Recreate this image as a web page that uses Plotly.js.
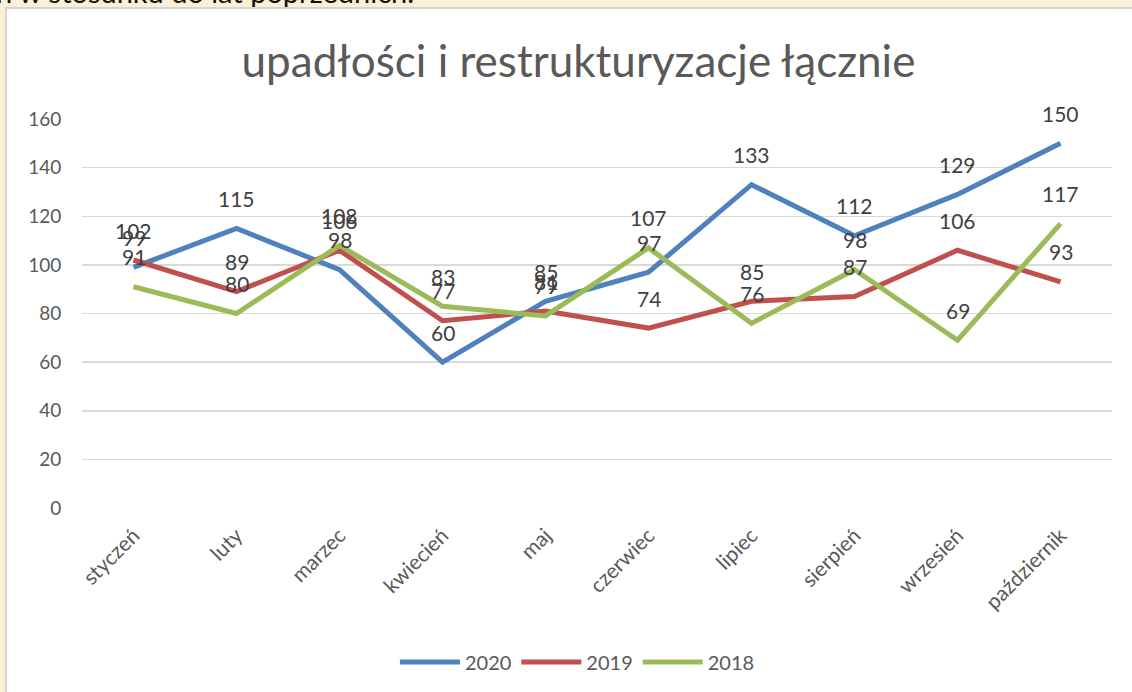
<!DOCTYPE html>
<html>
<head>
<meta charset="utf-8">
<script src="https://cdn.plot.ly/plotly-3.0.1.min.js"></script>
<style>
html,body{margin:0;padding:0;width:1132px;height:692px;overflow:hidden;background:#fbf0d6;}
#toptext{position:absolute;left:-4px;top:-26px;font-family:Lato,"Open Sans",sans-serif;font-size:29px;color:#111;white-space:nowrap;}
#box{position:absolute;left:5px;top:7px;width:1140px;height:700px;border:2px solid #d4d4d4;background:#fff;}
#chart{position:absolute;left:7px;top:9px;width:1125px;height:683px;}
</style>
</head>
<body>
<div id="toptext">n w stosunku do lat poprzednich.</div>
<div id="box"></div>
<div id="chart"></div>
<script>
const months = ["styczeń","luty","marzec","kwiecień","maj","czerwiec","lipiec","sierpień","wrzesień","październik"];
const y2020 = [99,115,98,60,85,97,133,112,129,150];
const y2019 = [102,89,106,77,81,74,85,87,106,93];
const y2018 = [91,80,108,83,79,107,76,98,69,117];
const seriesNames = ["2020","2019","2018"];
const seriesColors = ["#4f81bd","#c0504d","#9bbb59"];
const seriesData = [y2020,y2019,y2018];

const traces = seriesData.map((d,i)=>({
  type:"scatter", mode:"lines", x:months, y:d, name:seriesNames[i],
  line:{color:seriesColors[i], width:5}, hoverinfo:"skip"
}));

const annotations = [];
seriesData.forEach(d=>{
  d.forEach((v,j)=>{
    annotations.push({x:months[j], y:v, text:String(v), showarrow:false,
      yshift:30, font:{family:"Lato, Open Sans, sans-serif", size:21, color:"#404040"}});
  });
});

const layout = {
  width:1125, height:683,
  paper_bgcolor:"#ffffff", plot_bgcolor:"#ffffff",
  margin:{l:74.5, r:19.5, t:110, b:183},
  showlegend:true,
  title:{text:"upadłości i restrukturyzacje łącznie", x:0.508, xanchor:"center",
    y:1-53/683, yanchor:"middle", yref:"container",
    font:{family:"Lato, Open Sans, sans-serif", size:44, color:"#595959"}},
  xaxis:{type:"category", range:[-0.5,9.5], showgrid:false, zeroline:false, showline:false,
    tickangle:-45, ticks:"outside", ticklen:6, tickcolor:"rgba(0,0,0,0)",
    tickfont:{family:"Lato, Open Sans, sans-serif", size:21, color:"#595959"}},
  yaxis:{range:[0,160], tickvals:[0,20,40,60,80,100,120,140,160], showgrid:true,
    gridcolor:"#d9d9d9", gridwidth:1.5, zeroline:false, showline:false,
    ticks:"outside", ticklen:16, tickcolor:"rgba(0,0,0,0)",
    tickfont:{family:"Lato, Open Sans, sans-serif", size:19, color:"#595959"}},
  legend:{orientation:"h", x:0.481, xanchor:"center", y:(500-653)/390, yanchor:"middle",
    font:{family:"Lato, Open Sans, sans-serif", size:20, color:"#595959"},
    itemwidth:60, tracegroupgap:0},
  annotations:annotations
};
Plotly.newPlot("chart", traces, layout, {staticPlot:true, displayModeBar:false});
</script>
</body>
</html>
